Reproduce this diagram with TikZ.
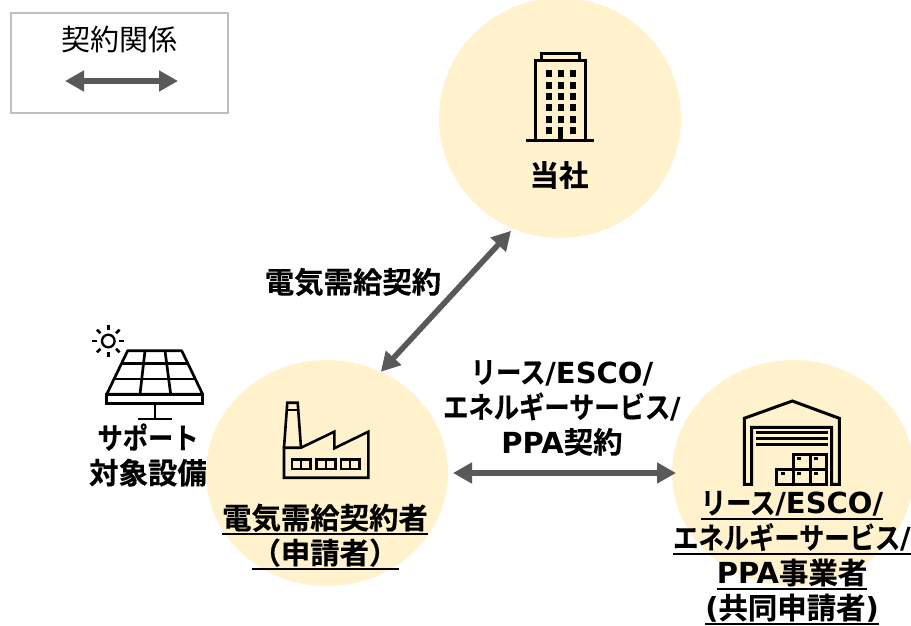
\documentclass[tikz,border=0pt]{standalone}
\usepackage{fontspec}
\usetikzlibrary{arrows.meta,shapes.geometric}
\setmainfont{Noto Sans CJK JP}
\newfontfamily\jb[FakeBold=0.4]{Noto Sans CJK JP Bold}
\newfontfamily\jkana[FakeStretch=0.86,FakeBold=0.4]{Noto Sans CJK JP Bold}
\newfontfamily\jlat{DejaVu Sans Bold}
\newcommand{\kn}[1]{{\jkana #1}}
\newcommand{\lt}[1]{{\jlat\fontsize{29}{35}\selectfont #1}}
\newcommand{\ulx}[1]{\setbox0\hbox{#1}\rlap{\rule[-6.5pt]{\wd0}{2pt}}\box0}
\definecolor{circ}{HTML}{FFF2CC}
\definecolor{arr}{HTML}{595959}
\definecolor{legb}{HTML}{BFBFBF}
\tikzset{
  party/.style={ellipse,fill=circ,inner sep=0pt,outer sep=0pt},
  link/.style={draw=arr,line width=5.6pt,{Triangle[length=19pt,width=20pt]}-{Triangle[length=19pt,width=20pt]}},
  lab/.style={align=center,inner sep=0pt,font=\jb\fontsize{29.4}{35}\selectfont},
  ico/.style={draw=black,line width=3pt,line join=miter},
  icot/.style={draw=black,line width=2.7pt},
}
\begin{document}
\begin{tikzpicture}[x=1pt,y=-1pt]
\useasboundingbox (0,0) rectangle (911,626);
% legend
\node[draw=legb,line width=1.5pt,minimum width=217pt,minimum height=100pt,inner sep=0pt,outer sep=0pt] (legend) at (119.5,63) {};
\node[inner sep=0pt,font=\fontsize{29}{35}\selectfont] (legtxt) at (119.5,39) {契約関係};
\coordinate (legA) at (65,81);
\coordinate (legB) at (178,81);
\draw[link] (legA) -- (legB);
% circles
\node[party,minimum width=242pt,minimum height=240pt] (cTop) at (560,118) {};
\node[party,minimum width=242pt,minimum height=226pt] (cLeft) at (327,473) {};
\node[party,minimum width=242pt,minimum height=226pt] (cRight) at (793,473) {};
% arrows
\draw[link,shorten <=3pt] (cTop.247) -- (cLeft.62);
\draw[link,shorten <=-5pt,shorten >=-5pt] ([xshift=10pt]cLeft.east) -- ([xshift=-1pt]cRight.west);
% labels
\node[lab] (lTop) at (559,175) {当社};
\node[lab] (lCont) at (353,282) {電気需給契約};
\node[lab] (lMid) at (562,408) {\kn{リース}\lt{/ESCO/}\\\kn{エネルギーサービス}\lt{/}\\\lt{PPA}契約};
\node[lab] (lSup) at (148,455) {\kn{サポート}\\対象設備};
\node[lab] (lLeft) at (325,537) {\ulx{電気需給契約者}\\\ulx{（申請者）}};
\node[lab] (lRight) at (792,558) {\ulx{\kn{リース}\lt{/ESCO/}}\\\ulx{\kn{エネルギーサービス}\lt{/}}\\\ulx{\lt{PPA}事業者}\\\ulx{\lt{(}共同申請者\lt{)}}};
% building
\draw[ico] (526,140) -- (594,140);
\draw[ico] (535,140) -- (535,61) -- (585,61) -- (585,140);
\draw[ico] (541,61) -- (541,54) -- (579,54) -- (579,61);
\foreach \y in {70,82,93,104,116}
  \foreach \x in {546,558,570} \fill (\x,\y) rectangle +(5.5,7);
\fill (546,127) rectangle +(5.5,7);
\fill (570,127) rectangle +(5.5,7);
\fill (557.5,127) rectangle (562.5,140);
% solar panel
\draw[icot,line join=round] (106.7,394.3) -- (127.7,350.7) -- (181.7,350.7) -- (202.7,394.3) -- cycle;
\draw[icot] (106.7,394.3) rectangle (202.7,403.7);
\draw[icot] (121.5,363.3) -- (188,363.3) (114.5,379) -- (195.5,379);
\draw[icot] (145,350.7) -- (140,394.3) (165,350.7) -- (170.7,394.3);
\draw[icot] (155,404) -- (155,419) (138,419) -- (172,419);
\draw[draw=black,line width=2.3pt] (108.3,341) circle (6.3);
\foreach \a in {0,45,...,315}
  \draw[line width=2.6pt] (108.3,341) ++(\a:11) -- ++(\a:5);
% factory
\draw[ico,line width=2.6pt] (284,447.7) -- (287.3,402.7) -- (297.7,402.7) -- (301,447.7);
\draw[ico,line width=2.6pt] (286,410) -- (299,410);
\draw[ico,line width=2.6pt] (284,447.7) -- (284,477.7) -- (368.3,477.7) -- (368.3,431.7) -- (334.3,448.3) -- (334.3,431.7) -- (301,447.7) -- cycle;
\foreach \x in {292,316.7,341} {
  \draw[ico,line width=2.6pt] (\x,459.3) rectangle +(18.5,9.7);
  \draw[ico,line width=2.2pt] (\x+9.2,459.3) -- (\x+9.2,469);
}
% warehouse
\draw[ico] (744.3,484.3) -- (744.3,418.3) -- (792.3,401) -- (839.3,418.3) -- (839.3,484.3) -- (831.7,484.3) -- (831.7,427.3) -- (751.7,427.3) -- (751.7,484.3) -- cycle;
\foreach \y in {432.3,438.3,444.3} \draw[line width=3pt] (756,\y) -- (828.3,\y);
\draw[ico] (793.3,469) -- (793.3,454.3) -- (826,454.3) -- (826,484.3) -- (776.7,484.3) -- (776.7,469) -- (826,469);
\draw[ico] (810,454.3) -- (810,484.3) (793.3,469) -- (793.3,484.3);
\foreach \x/\y in {797/456.5,814/456.5,781/471.5,797/471.5,814/471.5} \fill (\x,\y) rectangle +(3.8,3.2);
\end{tikzpicture}
\end{document}
